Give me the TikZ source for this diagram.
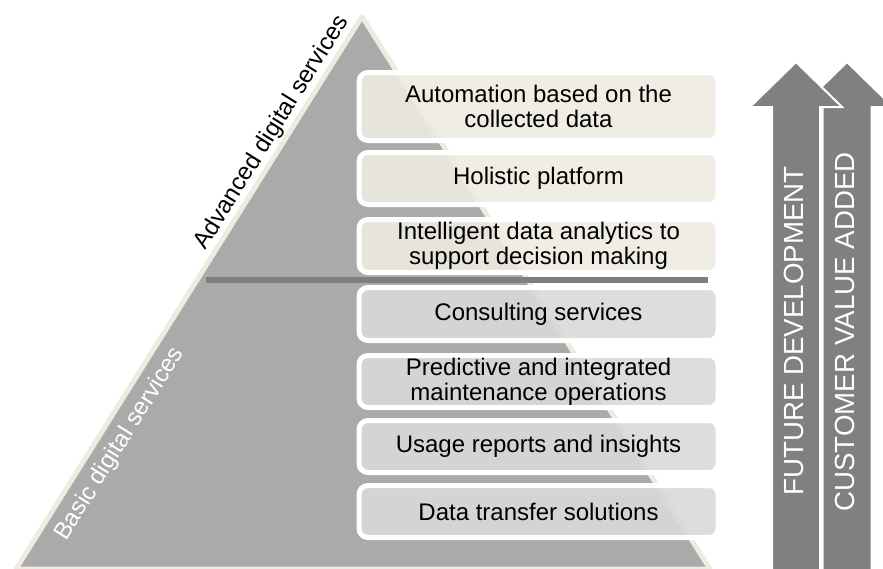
\documentclass[tikz,border=0pt]{standalone}
\usepackage{fontspec}
\setmainfont{Liberation Sans}
\definecolor{tan}{HTML}{EEECE1}
\definecolor{pyramidgray}{HTML}{AAAAAA}
\definecolor{basicbox}{HTML}{D9D9D9}
\definecolor{arrowgray}{HTML}{808080}
\definecolor{dividergray}{HTML}{7F7F7F}

\begin{document}
\begin{tikzpicture}[x=1pt,y=-1pt,
  every node/.style={inner sep=0pt, outer sep=0pt},
  layerbox/.style={draw=white, line width=5pt, rounded corners=9pt,
    fill opacity=0.9, text opacity=1, minimum width=359pt,
    align=center, font=\fontsize{24}{25}\selectfont, text=black},
  advbox/.style={layerbox, fill=tan},
  basbox/.style={layerbox, fill=basicbox},
  bigarrow/.style={fill=arrowgray, draw=white, line width=2pt, line join=miter},
  arrowlabel/.style={rotate=90, text=white, font=\fontsize{27.7}{30}\selectfont},
  sidelabel/.style={rotate=58.05, font=\fontsize{24}{26}\selectfont}
]
\useasboundingbox (0,0) rectangle (883,568);
\clip (0,0) rectangle (883,568);

% pyramid
\coordinate (apex) at (362,16.5);
\coordinate (bl) at (16,569);
\coordinate (br) at (710,569);
\draw[fill=pyramidgray, draw=tan, line width=5pt, line join=round]
  (apex) -- (bl) -- (br) -- cycle;

% labels along the left flank
\node[sidelabel] (advlabel) at (272,132.5) {Advanced digital services};
\node[sidelabel, text=white] (baslabel) at (120,444) {Basic digital services};

% separator between advanced and basic services
\draw[dividergray, line width=6pt] (206,280) -- (708,280);

% service layers
\node[advbox, minimum height=68pt] (automation) at (538.5,106.5)
  {Automation based on the\\collected data};
\node[advbox, minimum height=52pt] (holistic) at (538.5,178.5)
  {Holistic platform};
\node[advbox, minimum height=53pt] (analytics) at (538.5,246)
  {Intelligent data analytics to\\support decision making};
\node[basbox, minimum height=53pt] (consulting) at (538.5,314)
  {Consulting services};
\node[basbox, minimum height=52pt] (maintenance) at (538.5,381.5)
  {Predictive and integrated\\maintenance operations};
\node[basbox, minimum height=52pt] (usage) at (538.5,446.5)
  {Usage reports and insights};
\node[basbox, minimum height=52pt] (transfer) at (538.5,511.5)
  {Data transfer solutions};

% upward arrows
\path[bigarrow] (822.5,572) -- (822.5,107) -- (801,107) -- (847,62)
  -- (893,107) -- (871.5,107) -- (871.5,572) -- cycle;
\path[bigarrow] (772,572) -- (772,107) -- (750,107) -- (796,62)
  -- (842,107) -- (820,107) -- (820,572) -- cycle;
\node[arrowlabel] (future) at (794,331) {FUTURE DEVELOPMENT};
\node[arrowlabel] (customer) at (844.5,332) {CUSTOMER VALUE ADDED};
\end{tikzpicture}
\end{document}
